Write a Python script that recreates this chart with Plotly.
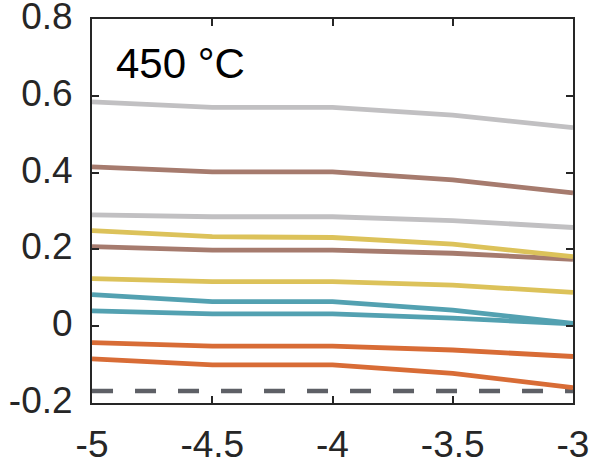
import plotly.graph_objects as go

x = [-5, -4.5, -4, -3.5, -3]

grey_top = [0.584, 0.570, 0.570, 0.550, 0.517]
brown_top = [0.415, 0.402, 0.402, 0.381, 0.347]
grey_mid = [0.290, 0.285, 0.285, 0.275, 0.257]
yellow_top = [0.249, 0.233, 0.231, 0.214, 0.181]
brown_mid = [0.207, 0.198, 0.198, 0.190, 0.174]
yellow_mid = [0.124, 0.116, 0.116, 0.107, 0.088]
teal_top = [0.082, 0.064, 0.064, 0.042, 0.007]
teal_mid = [0.040, 0.032, 0.032, 0.021, 0.006]
orange_top = [-0.043, -0.052, -0.052, -0.062, -0.079]
orange_bot = [-0.085, -0.101, -0.101, -0.123, -0.160]
baseline = [-0.169, -0.169, -0.169, -0.169, -0.169]

x_ticks = [-5, -4.5, -4, -3.5, -3]
x_labels = ["-5", "-4.5", "-4", "-3.5", "-3"]
y_ticks = [-0.2, 0, 0.2, 0.4, 0.6, 0.8]
y_labels = ["-0.2", "0", "0.2", "0.4", "0.6", "0.8"]

GREY = "#c1c0c2"
BROWN = "#a67b6e"
YELLOW = "#dcc25a"
TEAL = "#53a1b1"
ORANGE = "#d86c36"
DASH = "#5e6066"

series = [
    (grey_top, GREY), (brown_top, BROWN), (grey_mid, GREY),
    (brown_mid, BROWN), (yellow_top, YELLOW), (yellow_mid, YELLOW),
    (teal_mid, TEAL), (teal_top, TEAL), (orange_top, ORANGE), (orange_bot, ORANGE),
]

fig = go.Figure()
fig.add_trace(go.Scatter(x=x, y=baseline, mode="lines",
                         line=dict(color=DASH, width=4.5, dash="21px,22px"),
                         showlegend=False, hoverinfo="skip"))
for ys, c in series:
    fig.add_trace(go.Scatter(x=x, y=ys, mode="lines",
                             line=dict(color=c, width=4.8),
                             showlegend=False, hoverinfo="skip"))

FONT = "Liberation Sans, Arial, sans-serif"
axis_common = dict(
    showline=True, linewidth=2, linecolor="#262626", mirror="ticks",
    ticks="inside", ticklen=7, tickwidth=2, tickcolor="#262626",
    showgrid=False, zeroline=False, automargin=False,
    ticklabeloverflow="allow",
    tickfont=dict(family=FONT, size=37, color="#262626"),
)

fig.update_xaxes(range=[-5.0001, -2.9999], tickvals=x_ticks, ticktext=x_labels,
                 ticklabelstandoff=8, **axis_common)
fig.update_yaxes(range=[-0.2001, 0.8001], tickvals=y_ticks, ticktext=y_labels,
                 ticklabelstandoff=10, ticklabelshift=-3, **axis_common)

fig.add_annotation(text="450 °C", xref="paper", yref="paper", x=0.045, y=0.885,
                   xanchor="left", yanchor="middle", showarrow=False,
                   font=dict(family=FONT, size=42, color="#000000"))

fig.update_layout(width=590, height=468, margin=dict(l=92, r=17, t=19, b=65),
                  plot_bgcolor="white", paper_bgcolor="white")

fig.write_html("out.html")
